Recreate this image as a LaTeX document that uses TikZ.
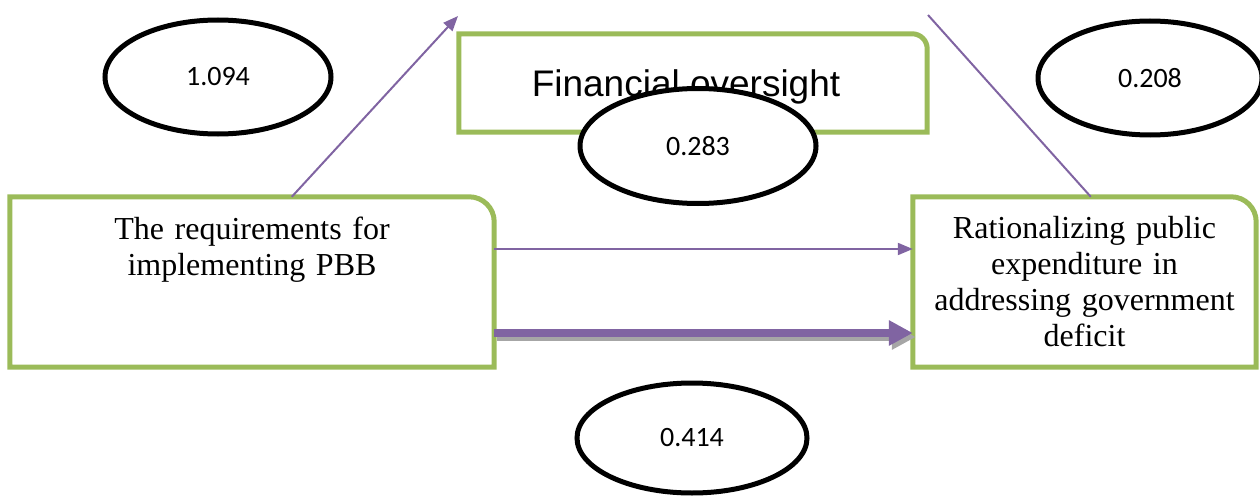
\documentclass[tikz,border=0pt]{standalone}
\usepackage{fontspec}
\setmainfont{Liberation Serif}
\newfontfamily\numfont{Carlito}
\newfontfamily\headfont{Liberation Sans}
\usetikzlibrary{arrows.meta,shapes.geometric}
\definecolor{boxgreen}{HTML}{9BBB59}
\definecolor{linkpurple}{HTML}{8064A2}
\definecolor{shadowgray}{HTML}{A6A6A6}

\begin{document}
\begin{tikzpicture}[x=1pt, y=1pt,
  boxline/.style={draw=boxgreen, line width=5pt},
  boxtext/.style={inner sep=0pt, align=center, font=\fontsize{32}{36}\selectfont},
  coef/.style={ellipse, draw, line width=5pt, fill=white, inner sep=0pt, font=\numfont\fontsize{28}{32}\selectfont},
  link/.style={draw=linkpurple, line width=2pt},
  thintip/.style={-{Triangle[length=15pt,width=12pt]}},
  thicktip/.style={line width=8pt, -{Triangle[length=24pt,width=24pt]}}]
  \useasboundingbox (0,0) rectangle (1260,499);

  % Boxes
  \node[boxtext, minimum width=484pt, minimum height=170pt, text width=470pt] (req) at (252,217)
    {The requirements for\\implementing PBB\\\mbox{}\\\mbox{}};
  \node[boxtext, minimum width=343pt, minimum height=170pt, text width=335pt] (res) at (1084.5,217)
    {Rationalizing public\\expenditure in\\addressing government\\deficit};
  \node[inner sep=0pt, minimum width=468pt, minimum height=98pt, text height=27pt, text depth=0pt,
    font=\headfont\fontsize{37}{40}\selectfont] (fo) at (693,416) {Financial oversight\hspace*{14pt}};

  \draw[boxline] (req.south west) -- (req.north west) -- ([xshift=-25pt]req.north east)
    arc[start angle=90, end angle=0, radius=25pt] -- (req.south east) -- cycle;
  \draw[boxline] (res.south west) -- (res.north west) -- ([xshift=-25pt]res.north east)
    arc[start angle=90, end angle=0, radius=25pt] -- (res.south east) -- cycle;
  \draw[boxline] (fo.south west) -- (fo.north west) -- ([xshift=-15pt]fo.north east)
    arc[start angle=90, end angle=0, radius=15pt] -- (fo.south east) -- cycle;

  % Paths
  \coordinate (fotip) at (458,483);
  \coordinate (fotail) at (928,484);
  \draw[link, thintip] ([xshift=282pt]req.north west) -- (fotip);
  \draw[link] (fotail) -- ([xshift=178pt]res.north west);
  \draw[link, thintip] ([yshift=33pt]req.east) -- ([yshift=33pt]res.west);
  \draw[draw=shadowgray, thicktip] ([xshift=3pt,yshift=-55pt]req.east) -- ([xshift=3pt,yshift=-55pt]res.west);
  \draw[draw=linkpurple, thicktip] ([yshift=-51pt]req.east) -- ([yshift=-51pt]res.west);

  % Coefficients
  \node[coef, minimum width=226pt, minimum height=114pt] (c1) at (218,422) {1.094};
  \node[coef, minimum width=224pt, minimum height=114pt] (c2) at (1150,421) {0.208};
  \node[coef, minimum width=236pt, minimum height=115pt] (c3) at (698,353) {0.283};
  \node[coef, minimum width=230pt, minimum height=110pt] (c4) at (692,61) {0.414};
\end{tikzpicture}
\end{document}
